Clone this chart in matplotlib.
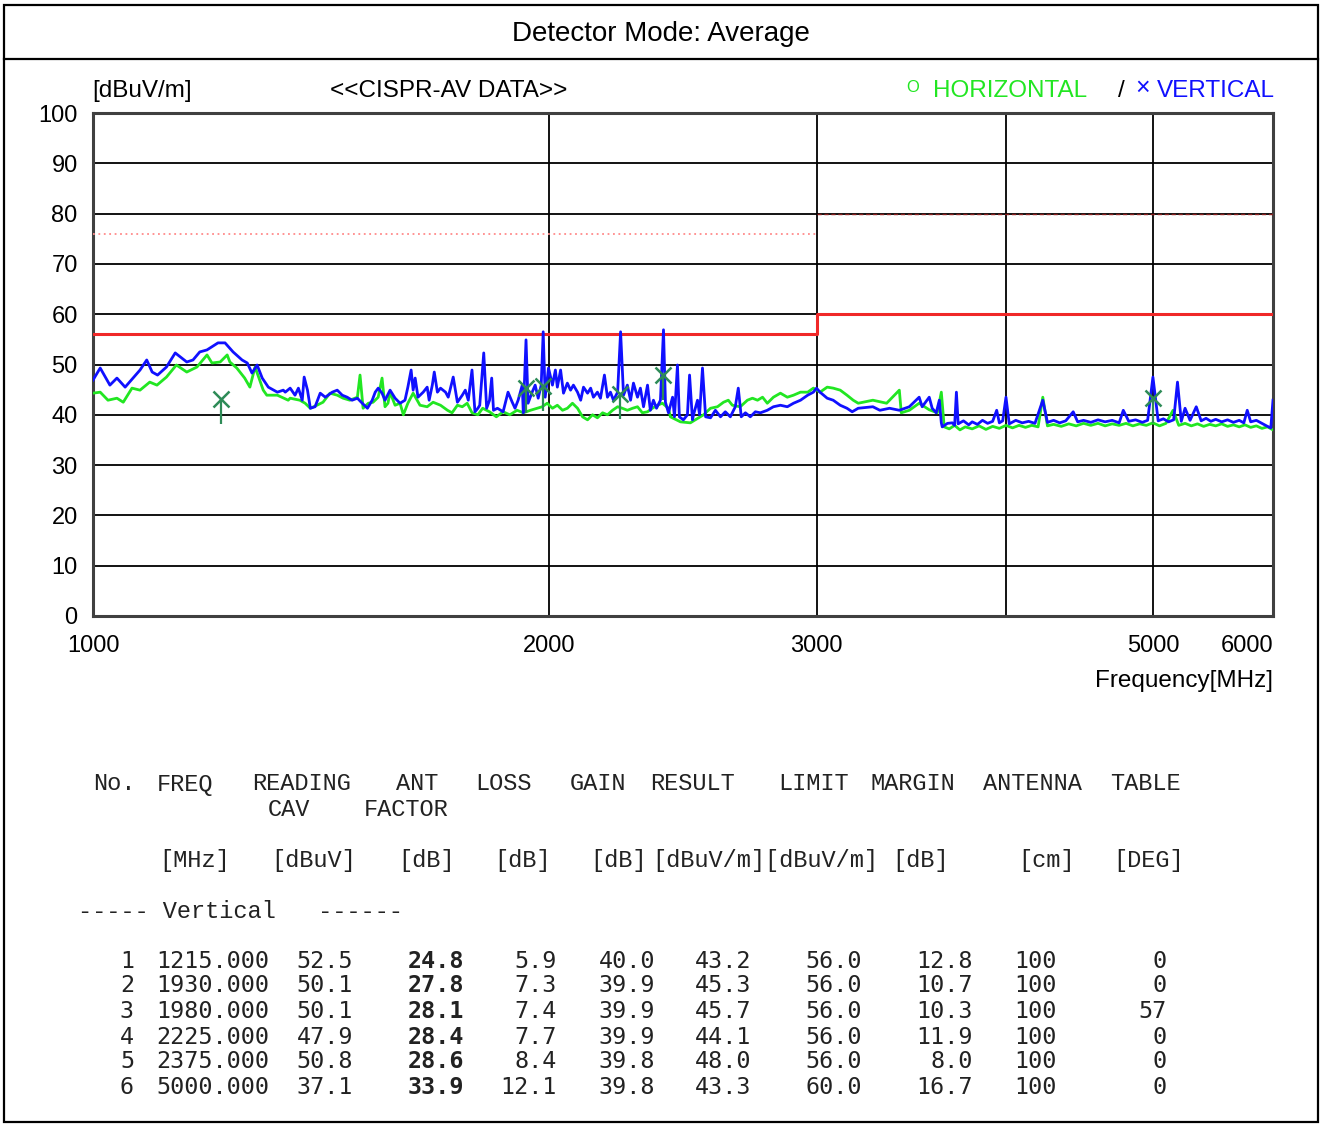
import numpy as np
import matplotlib
matplotlib.use("Agg")
import matplotlib.pyplot as plt
from matplotlib.ticker import NullLocator

# ---- spectrum traces (MHz, dBuV/m) ----
blue_low = [(1000, 46.9), (1011, 49.3), (1026, 45.9), (1037, 47.3), (1050, 45.5), (1074, 48.9),
            (1085, 50.9), (1094, 48.5), (1103, 47.9), (1118, 49.5), (1133, 52.3), (1153, 50.5),
            (1164, 50.9), (1176, 52.5), (1189, 52.9), (1209, 54.3), (1222, 54.3), (1237, 52.5),
            (1254, 50.9), (1264, 50.3), (1273, 48.3), (1283, 49.9), (1293, 47.3), (1305, 45.5),
            (1323, 44.5), (1335, 44.9), (1339, 44.5), (1349, 45.3), (1359, 43.9), (1366, 45.3),
            (1374, 42.9), (1378, 47.5), (1385, 44.9), (1391, 41.3), (1401, 41.6), (1412, 44.3),
            (1423, 43.5), (1438, 44.5), (1449, 44.9), (1460, 43.9), (1471, 43.5), (1482, 42.9),
            (1494, 43.3), (1505, 42.3), (1517, 41.3), (1528, 42.9), (1535, 44.5), (1542, 45.3),
            (1551, 44.3), (1558, 42.9), (1570, 44.9), (1582, 43.3), (1594, 42.3), (1606, 42.9),
            (1613, 45.5), (1621, 48.9), (1626, 44.9), (1631, 47.3), (1638, 43.5), (1651, 44.5),
            (1661, 45.5), (1666, 42.9), (1674, 45.9), (1679, 48.5), (1687, 44.5), (1695, 45.3),
            (1708, 44.5), (1715, 43.5), (1728, 47.5), (1739, 42.5), (1752, 43.9), (1760, 44.9),
            (1768, 42.9), (1778, 48.9), (1786, 40.6), (1794, 41.3)]
blue_mid = [(1799, 41.9), (1810, 52.3), (1818, 41.3), (1826, 42.9), (1832, 47.3), (1837, 40.9),
            (1848, 41.3), (1864, 40.6), (1878, 44.5), (1890, 42.5), (1898, 41.3), (1907, 42.9),
            (1919, 45.9), (1922, 40.4), (1930, 54.9), (1936, 42.3), (1948, 44.5), (1957, 45.9),
            (1966, 43.3), (1975, 45.9), (1981, 56.5), (1987, 43.5), (1997, 49.3), (2009, 45.9),
            (2018, 48.9), (2024, 45.5), (2034, 48.9), (2043, 44.3), (2055, 46.3), (2065, 44.9),
            (2074, 45.9), (2087, 44.5), (2097, 42.9), (2106, 45.5), (2119, 44.3), (2129, 45.3),
            (2138, 43.5), (2151, 44.5), (2161, 43.3), (2174, 47.9), (2184, 43.5), (2194, 44.5),
            (2204, 42.9), (2218, 44.5), (2228, 56.5), (2238, 43.9), (2251, 45.9), (2262, 42.9),
            (2272, 46.3), (2286, 43.5), (2296, 45.3), (2307, 41.6), (2321, 45.9), (2331, 40.9),
            (2342, 42.9), (2353, 41.3), (2367, 42.9), (2378, 56.9), (2385, 42.5), (2396, 40.4),
            (2411, 43.5), (2418, 39.6), (2429, 49.9), (2436, 39.6), (2451, 39.0), (2466, 40.0),
            (2474, 47.9), (2485, 39.0), (2489, 40.0), (2504, 42.9), (2512, 40.0), (2523, 49.3),
            (2535, 39.6), (2554, 39.4), (2573, 40.9), (2593, 39.6), (2612, 40.6), (2632, 39.6),
            (2652, 41.6), (2664, 45.3), (2676, 39.6), (2693, 40.4), (2713, 39.6), (2734, 40.6),
            (2755, 40.4), (2784, 40.9), (2810, 41.6), (2840, 41.9), (2870, 41.6), (2897, 42.3),
            (2928, 42.9), (2960, 43.9), (2986, 44.5), (3000, 45.3), (3016, 44.5), (3049, 43.3),
            (3077, 42.9), (3110, 41.9), (3142, 41.3), (3167, 40.6), (3196, 41.3), (3268, 41.6),
            (3303, 40.9), (3352, 41.3), (3402, 40.9), (3454, 41.6), (3506, 43.5), (3522, 41.6),
            (3560, 43.5), (3576, 41.3), (3598, 40.4), (3615, 42.9), (3626, 38.4)]
blue_high = [(3631, 37.6), (3660, 38.3), (3687, 38.4), (3700, 37.9), (3710, 44.5), (3720, 38.2),
             (3750, 38.8), (3780, 38.0), (3800, 38.6), (3830, 38.1), (3860, 38.9), (3890, 38.3),
             (3920, 38.7), (3944, 40.9), (3960, 38.4), (3980, 38.8), (4000, 43.5), (4020, 38.2),
             (4060, 38.9), (4100, 38.4), (4140, 38.7), (4180, 38.3), (4230, 42.9), (4260, 38.5),
             (4300, 38.9), (4340, 38.4), (4380, 38.8), (4430, 40.6), (4460, 38.6), (4500, 38.9),
             (4550, 38.5), (4600, 39.0), (4650, 38.6), (4700, 38.9), (4750, 38.4), (4780, 40.9),
             (4820, 38.7), (4870, 39.0), (4920, 38.5), (4960, 38.9), (5000, 47.5), (5040, 38.8),
             (5080, 39.2), (5120, 38.6), (5160, 39.0), (5190, 46.5), (5220, 38.7), (5250, 41.3),
             (5290, 38.9), (5340, 41.6), (5380, 38.8), (5420, 39.3), (5460, 38.7), (5500, 39.1),
             (5550, 38.6), (5600, 39.0), (5650, 38.5), (5700, 38.9), (5740, 38.4), (5770, 40.9),
             (5800, 38.6), (5850, 38.9), (5900, 38.3), (5950, 37.7), (5980, 37.4), (6000, 42.9)]

green_low = [(1000, 44.3), (1011, 44.5), (1023, 42.9), (1037, 43.3), (1047, 42.5), (1061, 45.3),
             (1074, 44.9), (1090, 46.5), (1102, 45.9), (1118, 47.5), (1135, 49.9), (1153, 48.5),
             (1171, 49.5), (1189, 51.9), (1198, 50.3), (1213, 50.5), (1226, 51.9), (1231, 50.5),
             (1244, 49.3), (1259, 47.3), (1269, 45.5), (1279, 49.5), (1295, 44.9), (1302, 43.9),
             (1323, 43.9), (1345, 42.9), (1349, 43.3), (1369, 42.9), (1380, 42.3), (1391, 41.3),
             (1405, 41.9), (1418, 42.5), (1433, 44.3), (1449, 43.9), (1462, 43.3), (1477, 42.9),
             (1494, 43.5), (1500, 47.9), (1507, 41.3), (1519, 42.3), (1530, 42.5), (1542, 43.5),
             (1551, 47.3), (1558, 41.6), (1565, 42.3), (1570, 44.5), (1582, 41.9), (1594, 42.3),
             (1602, 40.0), (1613, 42.3), (1626, 44.3), (1643, 41.9), (1661, 41.6), (1676, 42.5),
             (1695, 41.9), (1713, 40.9), (1725, 40.4), (1739, 41.9), (1752, 41.6), (1765, 42.3),
             (1778, 40.4), (1794, 40.0)]
green_mid = [(1807, 41.3), (1826, 40.6), (1845, 39.6), (1864, 40.6), (1883, 40.0), (1904, 40.9),
             (1922, 40.4), (1943, 40.9), (1963, 41.3), (1978, 41.6), (1993, 42.3), (2009, 41.3),
             (2024, 41.9), (2040, 40.9), (2055, 41.3), (2071, 42.3), (2087, 41.3), (2103, 39.6),
             (2119, 39.0), (2135, 40.0), (2151, 39.4), (2168, 40.4), (2184, 40.0), (2201, 40.9),
             (2218, 41.6), (2234, 41.3), (2251, 40.9), (2269, 41.3), (2286, 41.6), (2303, 40.4),
             (2321, 40.6), (2338, 41.3), (2356, 41.9), (2374, 42.3), (2396, 41.3), (2403, 39.6),
             (2440, 38.6), (2477, 38.4), (2527, 40.0), (2554, 41.3), (2581, 41.6), (2605, 42.5),
             (2624, 42.9), (2640, 41.9), (2672, 41.6), (2701, 42.9), (2722, 43.3), (2743, 42.9),
             (2764, 43.5), (2784, 42.3), (2810, 43.5), (2840, 44.3), (2870, 43.5), (2897, 43.9),
             (2928, 44.5), (2960, 44.5), (2986, 45.3), (3016, 44.5), (3049, 45.5), (3077, 45.3),
             (3110, 44.9), (3142, 43.9), (3172, 42.9), (3196, 42.3), (3268, 42.9), (3337, 42.3),
             (3402, 44.9), (3412, 40.4), (3454, 40.9), (3506, 42.3), (3560, 41.0), (3604, 40.4),
             (3626, 44.5)]
green_high = [(3642, 37.6), (3670, 37.2), (3700, 37.9), (3730, 37.0), (3760, 37.6), (3800, 37.2),
              (3840, 37.8), (3880, 37.1), (3920, 37.7), (3960, 37.3), (4000, 37.9), (4040, 37.4),
              (4080, 37.9), (4120, 37.5), (4160, 37.9), (4200, 37.6), (4230, 43.5), (4260, 37.8),
              (4300, 38.1), (4350, 37.7), (4400, 38.2), (4450, 37.8), (4500, 38.3), (4550, 37.9),
              (4600, 38.3), (4650, 37.8), (4700, 38.2), (4750, 37.9), (4800, 38.3), (4850, 37.8),
              (4900, 38.2), (4950, 37.9), (5000, 38.4), (5050, 37.8), (5100, 38.3), (5155, 40.9),
              (5200, 37.9), (5250, 38.3), (5300, 37.8), (5350, 38.2), (5400, 37.7), (5450, 38.1),
              (5500, 37.8), (5550, 38.2), (5600, 37.7), (5650, 38.0), (5700, 37.6), (5750, 38.0),
              (5800, 37.5), (5850, 37.8), (5900, 37.3), (5950, 37.6), (6000, 37.0)]

# ---- limits ----
limit_freq = [1000, 3000, 6000]
limit_avg = [56, 60, 60]
limit_pk_low = 76
limit_pk_high = 80

# ---- final measurement table ----
no = [1, 2, 3, 4, 5, 6]
freq = [1215.0, 1930.0, 1980.0, 2225.0, 2375.0, 5000.0]
reading = [52.5, 50.1, 50.1, 47.9, 50.8, 37.1]
ant_factor = [24.8, 27.8, 28.1, 28.4, 28.6, 33.9]
loss = [5.9, 7.3, 7.4, 7.7, 8.4, 12.1]
gain = [40.0, 39.9, 39.9, 39.9, 39.8, 39.8]
result = [43.2, 45.3, 45.7, 44.1, 48.0, 43.3]
limit = [56.0, 56.0, 56.0, 56.0, 56.0, 60.0]
margin = [12.8, 10.7, 10.3, 11.9, 8.0, 16.7]
antenna = [100, 100, 100, 100, 100, 100]
table_deg = [0, 0, 57, 0, 0, 0]

W, H = 1320, 1124


def fx(px):
    return px / W


def fy(py):
    return 1 - py / H


fig = plt.figure(figsize=(W / 100, H / 100), dpi=100)
fig.patch.set_facecolor("white")
sans = "Liberation Sans"
GREEN = "#22e622"
BLUE = "#1010ff"

# outer frame and title row
fig.add_artist(plt.Rectangle((fx(4), fy(1122)), fx(1318) - fx(4), fy(5) - fy(1122),
                             fill=False, lw=1.6, ec="black", transform=fig.transFigure))
fig.add_artist(plt.Line2D([fx(4), fx(1318)], [fy(59), fy(59)], lw=1.6, color="black",
                          transform=fig.transFigure))
fig.text(fx(661), fy(34), "Detector Mode: Average", ha="center", va="center",
         fontsize=20, family=sans)

ax = fig.add_axes([fx(93), fy(616), fx(1273) - fx(93), fy(113) - fy(616)])
ax.set_xscale("log")
ax.set_xlim(1000, 6000)
ax.set_ylim(0, 100)
ax.xaxis.set_minor_locator(NullLocator())
ax.set_xticks([1000, 2000, 3000, 5000, 6000])
ax.set_xticklabels(["1000", "2000", "3000", "5000", "6000"])
ax.set_yticks(range(0, 101, 10))
ax.tick_params(length=0, labelsize=17)
ax.tick_params(axis="x", pad=14)
ax.tick_params(axis="y", pad=11)
for lab in ax.get_xticklabels() + ax.get_yticklabels():
    lab.set_family(sans)
ax.get_xticklabels()[-1].set_ha("right")
for s in ax.spines.values():
    s.set_color("#404040")
    s.set_linewidth(2.2)

for yv in range(10, 100, 10):
    ax.axhline(yv, color="black", lw=1.3, zorder=1)
for xv in [2000, 3000, 4000, 5000]:
    ax.axvline(xv, color="black", lw=1.3, zorder=1)

# limit lines
ax.plot(limit_freq, limit_avg, drawstyle="steps-post", color="#f02828", lw=2.2, zorder=3)
ax.plot([1000, 3000], [limit_pk_low, limit_pk_low], color="#ff8a8a", lw=1.3, ls=(0, (1, 2)), zorder=3)
ax.plot([3000, 6000], [limit_pk_high, limit_pk_high], color="#8b2020", lw=1.0, ls=(0, (3, 2)), zorder=3)

# traces
g = green_low + green_mid + green_high
b = blue_low + blue_mid + blue_high
ax.plot([p[0] for p in g], [p[1] for p in g], color=GREEN, lw=2.0, zorder=4)
ax.plot([p[0] for p in b], [p[1] for p in b], color=BLUE, lw=2.0, zorder=5)

# final measurement markers
mk = "#2e8b57"
ax.vlines(freq, np.array(result) - 5, result, color=mk, lw=1.6, zorder=6)
ax.plot(freq, result, ls="none", marker="x", ms=11, mew=1.8, color=mk, zorder=6)

# labels around the plot
fs = 17.5
fig.text(fx(92), fy(91), "[dBuV/m]", ha="left", va="center", fontsize=fs, family=sans)
fig.text(fx(330), fy(91), "<<CISPR-AV DATA>>", ha="left", va="center", fontsize=fs, family=sans)
fig.text(fx(913), fy(88), "O", ha="center", va="center", fontsize=12, family=sans, color=GREEN)
fig.text(fx(933), fy(91), "HORIZONTAL", ha="left", va="center", fontsize=fs, family=sans, color=GREEN)
fig.text(fx(1121), fy(91), "/", ha="center", va="center", fontsize=fs, family=sans)
fig.text(fx(1143), fy(88), "\u00d7", ha="center", va="center", fontsize=18, family=sans, color=BLUE)
fig.text(fx(1157), fy(91), "VERTICAL", ha="left", va="center", fontsize=fs, family=sans, color=BLUE)
fig.text(fx(1273), fy(681), "Frequency[MHz]", ha="right", va="center", fontsize=fs, family=sans)

# table headers
head = "Liberation Mono"
header_rows = [
    (784, [("No.", 93), ("FREQ", 157), ("READING", 252), ("ANT", 396), ("LOSS", 475), ("GAIN", 570),
           ("RESULT", 650), ("LIMIT", 778), ("MARGIN", 871), ("ANTENNA", 983), ("TABLE", 1110)]),
    (809, [("CAV", 268), ("FACTOR", 364)]),
    (860, [("[MHz]", 159), ("[dBuV]", 271), ("[dB]", 398), ("[dB]", 494), ("[dB]", 590),
           ("[dBuV/m][dBuV/m]", 652), ("[dB]", 892), ("[cm]", 1018), ("[DEG]", 1113)]),
    (911, [("----- Vertical   ------", 78)]),
]
for yy, items in header_rows:
    for txt, xx in items:
        fig.text(fx(xx), fy(yy), txt, ha="left", va="center", fontsize=17, family=head, color="#222222")

mono = "DejaVu Sans Mono"
row_y = [961, 986, 1011, 1037, 1062, 1087]
columns = [
    (no, 134, "{:d}", "normal"),
    (freq, 269, "{:.3f}", "normal"),
    (reading, 353, "{:.1f}", "normal"),
    (ant_factor, 464, "{:.1f}", "bold"),
    (loss, 557, "{:.1f}", "normal"),
    (gain, 655, "{:.1f}", "normal"),
    (result, 751, "{:.1f}", "normal"),
    (limit, 862, "{:.1f}", "normal"),
    (margin, 973, "{:.1f}", "normal"),
    (antenna, 1057, "{:d}", "normal"),
    (table_deg, 1167, "{:d}", "normal"),
]
for vals, xr, fmt, wt in columns:
    for yy, v in zip(row_y, vals):
        fig.text(fx(xr), fy(yy), fmt.format(v), ha="right", va="center", fontsize=16.8,
                 family=mono, weight=wt, color="#222222")

fig.savefig("out.png", dpi=100)
